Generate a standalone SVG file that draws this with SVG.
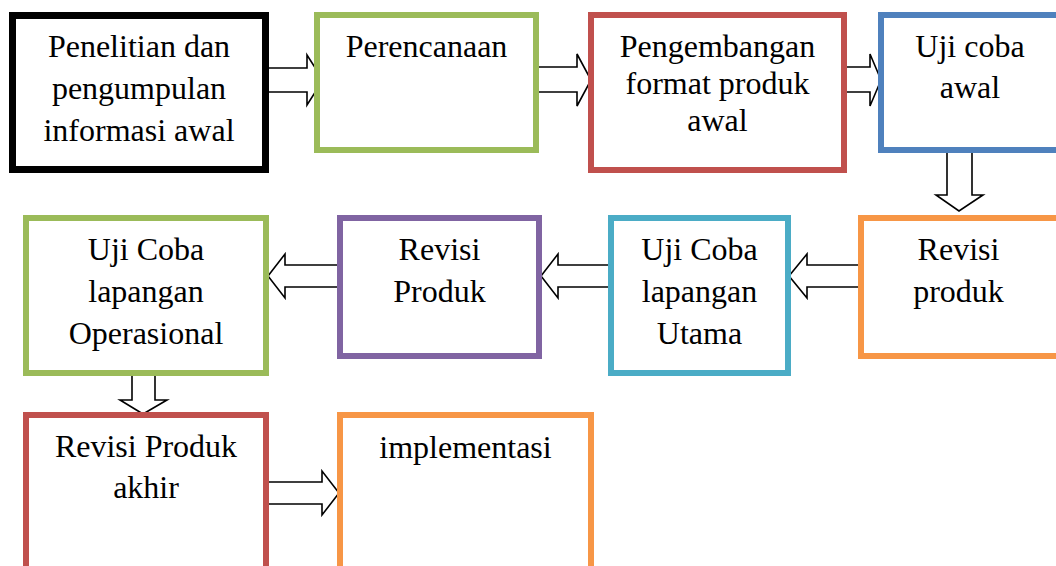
<svg xmlns="http://www.w3.org/2000/svg" width="1056" height="566" viewBox="0 0 1056 566">
<style>
.box{fill:#ffffff;stroke-width:6}
.t{font-family:"Liberation Serif","Times New Roman",serif;font-size:32px;fill:#000;text-anchor:middle}
.arr{fill:#ffffff;stroke:#000;stroke-width:1.6;stroke-linejoin:miter}
</style>
<rect width="1056" height="566" fill="#ffffff"/>
<g id="connectors">
<path class="arr" d="M266,68 H307 V55 L323,80 L307,105 V92 H266 Z"/>
<path class="arr" d="M537,67 H577 V54 L591,80 L577,106 V92 H537 Z"/>
<path class="arr" d="M845,67 H870 V54 L881,80 L870,106 V92 H845 Z"/>
<path class="arr" d="M947,151 V195 H936 L959,211 L983,195 H972 V151 Z"/>
<path class="arr" d="M860,265 H807 V254 L789,276 L807,298 V287 H860 Z"/>
<path class="arr" d="M610,265 H558 V254 L541,276 L558,298 V287 H610 Z"/>
<path class="arr" d="M339,265 H285 V254 L268,276 L285,298 V287 H339 Z"/>
<path class="arr" d="M132,374 V400 H120 L143,414 L167,400 H155 V374 Z"/>
<path class="arr" d="M267,482 H322 V471 L339,493 L322,515 V504 H267 Z"/>
</g>
<g id="n1">
<rect class="box" x="12.5" y="15.5" width="253" height="154" stroke="#000000" stroke-width="7" style="stroke-width:7"/>
<text class="t" x="139" y="57">Penelitian dan</text>
<text class="t" x="139" y="99">pengumpulan</text>
<text class="t" x="139" y="141">informasi awal</text>
</g>
<g id="n2">
<rect class="box" x="317" y="15" width="219" height="135" stroke="#9BBB59"/>
<text class="t" x="426.5" y="57">Perencanaan</text>
</g>
<g id="n3">
<rect class="box" x="591" y="15" width="253" height="155" stroke="#C0504D"/>
<text class="t" x="717.5" y="57">Pengembangan</text>
<text class="t" x="717.5" y="94">format produk</text>
<text class="t" x="717.5" y="131">awal</text>
</g>
<g id="n4">
<rect class="box" x="881" y="15" width="178" height="135" stroke="#4F81BD"/>
<text class="t" x="970" y="57">Uji coba</text>
<text class="t" x="970" y="98">awal</text>
</g>
<g id="n5">
<rect class="box" x="861" y="218" width="198" height="138" stroke="#F79646"/>
<text class="t" x="958.5" y="260">Revisi</text>
<text class="t" x="958.5" y="302">produk</text>
</g>
<g id="n6">
<rect class="box" x="611" y="218" width="177" height="155" stroke="#4BACC6"/>
<text class="t" x="699.5" y="260">Uji Coba</text>
<text class="t" x="699.5" y="302">lapangan</text>
<text class="t" x="699.5" y="344">Utama</text>
</g>
<g id="n7">
<rect class="box" x="340" y="218" width="199" height="138" stroke="#8064A2"/>
<text class="t" x="439.5" y="260">Revisi</text>
<text class="t" x="439.5" y="302">Produk</text>
</g>
<g id="n8">
<rect class="box" x="26" y="218" width="240" height="155" stroke="#9BBB59"/>
<text class="t" x="146" y="260">Uji Coba</text>
<text class="t" x="146" y="302">lapangan</text>
<text class="t" x="146" y="344">Operasional</text>
</g>
<g id="n9">
<rect class="box" x="26" y="415" width="240" height="170" stroke="#C0504D"/>
<text class="t" x="146" y="457">Revisi Produk</text>
<text class="t" x="146" y="498">akhir</text>
</g>
<g id="n10">
<rect class="box" x="340" y="415" width="251" height="170" stroke="#F79646"/>
<text class="t" x="465.5" y="458">implementasi</text>
</g>
</svg>
